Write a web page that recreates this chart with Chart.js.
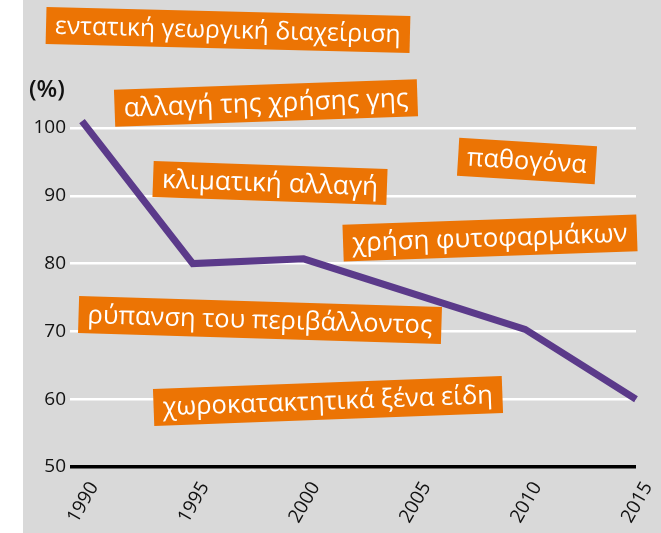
<!DOCTYPE html>
<html lang="el">
<head>
<meta charset="utf-8">
<script src="https://cdn.jsdelivr.net/npm/chart.js@4.4.1/dist/chart.umd.min.js"></script>
<style>
    html, body { margin: 0; padding: 0; background: #fff; }
    #wrap { width: 661px; height: 533px; }
</style>
</head>
<body>
<div id="wrap"><canvas id="chart" width="661" height="533"></canvas></div>
<script>
// Δεδομένα
const years = ['1990', '1995', '2000', '2005', '2010', '2015'];
const indexValues = [101, 80, 80.7, 75.5, 70.3, 60];
const yTicks = [50, 60, 70, 80, 90, 100];
const unitLabel = '(%)';
const drivers = [
    'εντατική γεωργική διαχείριση',
    'αλλαγή της χρήσης γης',
    'κλιματική αλλαγή',
    'παθογόνα',
    'χρήση φυτοφαρμάκων',
    'ρύπανση του περιβάλλοντος',
    'χωροκατακτητικά ξένα είδη'
];

// Θέση των πορτοκαλί ετικετών (pixels)
const driverBoxes = [
    { cx: 228, cy: 30, w: 364, h: 37, angle: 1.4 },
    { cx: 266, cy: 103, w: 303, h: 37, angle: -2 },
    { cx: 270, cy: 183, w: 234, h: 36, angle: 2 },
    { cx: 527, cy: 161, w: 138, h: 38, angle: 3.5 },
    { cx: 490, cy: 238, w: 294, h: 37, angle: -2 },
    { cx: 260, cy: 320, w: 363, h: 37, angle: 1.7 },
    { cx: 328, cy: 401, w: 349, h: 37, angle: -2.1 }
];

const FONT = "'Open Sans', 'Noto Sans', sans-serif";

const backdrop = {
    id: 'backdrop',
    beforeDraw(chart) {
        const ctx = chart.ctx;
        ctx.save();
        ctx.fillStyle = '#ffffff';
        ctx.fillRect(0, 0, chart.width, chart.height);
        ctx.fillStyle = '#d9d9d9';
        ctx.fillRect(23, 0, chart.width - 23, chart.height);
        ctx.restore();
    }
};

const labels = {
    id: 'labels',
    afterDraw(chart) {
        const ctx = chart.ctx;
        ctx.save();
        // μονάδα
        ctx.fillStyle = '#111';
        ctx.font = '600 24px ' + FONT;
        ctx.textBaseline = 'middle';
        ctx.textAlign = 'left';
        ctx.fillText(unitLabel, 29, 90);

        drivers.forEach((text, i) => {
            const b = driverBoxes[i];
            ctx.save();
            ctx.translate(b.cx, b.cy);
            ctx.rotate(b.angle * Math.PI / 180);
            ctx.fillStyle = '#ec7404';
            ctx.fillRect(-b.w / 2, -b.h / 2, b.w, b.h);
            const padX = 9;
            ctx.font = '100px ' + FONT;
            const m = ctx.measureText(text).width;
            const size = Math.min(27, (b.w - 2 * padX) * 100 / m);
            ctx.font = size.toFixed(1) + 'px ' + FONT;
            ctx.fillStyle = '#ffffff';
            ctx.textBaseline = 'middle';
            ctx.textAlign = 'left';
            ctx.fillText(text, -b.w / 2 + padX, 1);
            ctx.restore();
        });
        ctx.restore();
    }
};

new Chart(document.getElementById('chart'), {
    type: 'line',
    data: {
        labels: years,
        datasets: [{
            data: indexValues,
            borderColor: '#5b3a8a',
            borderWidth: 7,
            borderJoinStyle: 'miter',
            borderCapStyle: 'butt',
            pointRadius: 0,
            tension: 0,
            fill: false,
            clip: false
        }]
    },
    options: {
        responsive: false,
        animation: false,
        devicePixelRatio: 1,
        layout: {
            padding: { left: 0, right: 25, top: 128, bottom: 0 }
        },
        plugins: {
            legend: { display: false },
            tooltip: { enabled: false },
            title: { display: false }
        },
        scales: {
            x: {
                type: 'category',
                offset: false,
                grid: { display: false, drawTicks: false },
                border: { display: false },
                ticks: {
                    autoSkip: false,
                    minRotation: 60,
                    maxRotation: 60,
                    padding: 11,
                    labelOffset: 12,
                    color: '#111',
                    font: { family: FONT, size: 19 }
                },
                afterFit(scale) {
                    scale.height = 66;
                    scale.paddingLeft = 0;
                    scale.paddingRight = 0;
                }
            },
            y: {
                min: 50,
                max: 100,
                afterBuildTicks(scale) {
                    scale.ticks = yTicks.map(v => ({ value: v }));
                },
                grid: {
                    color: ctx => (ctx.tick && ctx.tick.value === 50) ? '#000000' : '#ffffff',
                    lineWidth: ctx => (ctx.tick && ctx.tick.value === 50) ? 3.5 : 2.5,
                    drawTicks: true,
                    tickLength: 12
                },
                border: { display: false },
                ticks: {
                    padding: 4,
                    color: '#111',
                    font: { family: FONT, size: 19 }
                },
                afterFit(scale) { scale.width = 82; }
            }
        }
    },
    plugins: [backdrop, labels]
});
</script>
</body>
</html>
